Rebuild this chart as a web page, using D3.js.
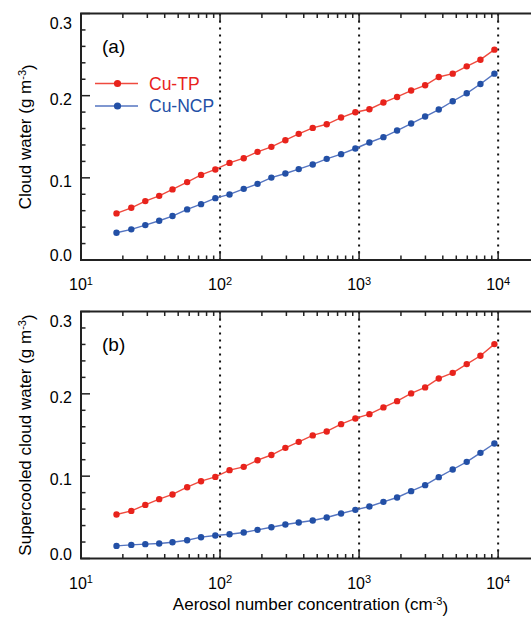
<!DOCTYPE html>
<html>
<head>
<meta charset="utf-8">
<script src="https://cdn.jsdelivr.net/npm/d3@7/dist/d3.min.js"></script>
<style>
  body { margin: 0; background: #fff; }
  text { font-family: "Liberation Sans", Arial, sans-serif; fill: #000; }
</style>
</head>
<body>
<div id="chart"></div>
<script>
// aerosol number concentration (cm-3) of every model run
var aerosol = [18, 23, 29, 36.5, 45.5, 58, 73, 92.5, 117, 148, 186, 234, 295, 368,
    464, 585, 742, 940, 1186, 1496, 1876, 2367, 2985, 3740, 4713, 5944, 7459, 9400];

// (a) cloud water (g m-3)
var cloudTP = [0.0567, 0.0635, 0.0717, 0.0781, 0.0859, 0.0948, 0.1036, 0.1102, 0.1182, 0.1239,
    0.1316, 0.1377, 0.1458, 0.1535, 0.1608, 0.1652, 0.1734, 0.1798, 0.1835, 0.1916,
    0.1984, 0.2062, 0.2126, 0.2227, 0.2268, 0.2357, 0.2438, 0.2560];
var cloudNCP = [0.0332, 0.0373, 0.0425, 0.0478, 0.0535, 0.0616, 0.0680, 0.0753, 0.0798, 0.0866,
    0.0927, 0.1003, 0.1053, 0.1106, 0.1163, 0.1231, 0.1288, 0.1357, 0.1430, 0.1495,
    0.1576, 0.1661, 0.1746, 0.1831, 0.1932, 0.2029, 0.2142, 0.2268];

// (b) supercooled cloud water (g m-3)
var superTP = [0.0535, 0.0578, 0.0651, 0.0721, 0.0778, 0.0866, 0.0939, 0.0991, 0.1073, 0.1113,
    0.1194, 0.1257, 0.1344, 0.1417, 0.1495, 0.1543, 0.1632, 0.1701, 0.1753, 0.1835,
    0.1911, 0.2005, 0.2078, 0.2187, 0.2255, 0.2361, 0.2462, 0.2604];
var superNCP = [0.0153, 0.0165, 0.0174, 0.0182, 0.0198, 0.0222, 0.0259, 0.0279, 0.0295, 0.0316,
    0.0348, 0.0379, 0.0413, 0.0437, 0.0462, 0.0498, 0.0547, 0.0591, 0.0632, 0.0688,
    0.0741, 0.0818, 0.0891, 0.0988, 0.1081, 0.1174, 0.1283, 0.1397];

var seriesNames = ["Cu-TP", "Cu-NCP"];
var xMajorTicks = [10, 100, 1000, 10000];
var xTickExponents = ["1", "2", "3", "4"];
var yMajorTicks = [0, 0.1, 0.2, 0.3];
var yTickLabels = ["0.0", "0.1", "0.2", "0.3"];
var gridValues = [100, 1000, 10000];

var colors = [{dot: "#e8231c", line: "#ef4a3e"}, {dot: "#2350a6", line: "#5474c0"}];

var width = 531, height = 618;
var left = 81, right = 540;

var svg = d3.select("#chart").append("svg")
    .attr("width", width)
    .attr("height", height);

var x = d3.scaleLog().domain([10, 20000]).range([left, right]);

// minor log ticks 2..9 of each decade that falls inside the domain
var xMinor = x.ticks().filter(function (v) { return xMajorTicks.indexOf(v) < 0; });
var yMinor = d3.range(0, 0.3001, 0.02);

function drawPanel(top, bottom, yTitle, panelLabel, seriesList, showLegend) {
    var y = d3.scaleLinear().domain([0, 0.3]).range([bottom, top]);
    var g = svg.append("g");

    // dotted verticals at the decades
    g.selectAll(".grid")
        .data(gridValues)
        .enter()
        .append("line")
        .attr("x1", function (d) { return x(d); })
        .attr("x2", function (d) { return x(d); })
        .attr("y1", top)
        .attr("y2", bottom)
        .attr("stroke", "#111")
        .attr("stroke-width", 2)
        .attr("stroke-dasharray", "2,5");

    // series lines and dots
    seriesList.forEach(function (values, i) {
        var pts = aerosol.map(function (a, k) { return [a, values[k]]; });
        g.append("path")
            .datum(pts)
            .attr("fill", "none")
            .attr("stroke", colors[i].line)
            .attr("stroke-width", 1.4)
            .attr("d", d3.line()
                .x(function (d) { return x(d[0]); })
                .y(function (d) { return y(d[1]); }));
        g.selectAll(".dot" + i)
            .data(pts)
            .enter()
            .append("circle")
            .attr("cx", function (d) { return x(d[0]); })
            .attr("cy", function (d) { return y(d[1]); })
            .attr("r", 3.2)
            .attr("fill", colors[i].dot);
    });

    // frame: ticks point inwards on all four sides
    var frame = "#222";
    g.append("rect")
        .attr("x", left).attr("y", top)
        .attr("width", right - left).attr("height", bottom - top)
        .attr("fill", "none").attr("stroke", frame).attr("stroke-width", 2);

    [[bottom, -1], [top, 1]].forEach(function (side) {
        g.selectAll(null)
            .data(xMinor)
            .enter()
            .append("line")
            .attr("x1", function (d) { return x(d); })
            .attr("x2", function (d) { return x(d); })
            .attr("y1", side[0])
            .attr("y2", side[0] + side[1] * 4.5)
            .attr("stroke", frame).attr("stroke-width", 1.5);
        g.selectAll(null)
            .data(xMajorTicks)
            .enter()
            .append("line")
            .attr("x1", function (d) { return x(d); })
            .attr("x2", function (d) { return x(d); })
            .attr("y1", side[0])
            .attr("y2", side[0] + side[1] * 9)
            .attr("stroke", frame).attr("stroke-width", 1.5);
    });

    [[left, 1], [right, -1]].forEach(function (side) {
        g.selectAll(null)
            .data(yMinor)
            .enter()
            .append("line")
            .attr("x1", side[0])
            .attr("x2", function (d) {
                var major = Math.abs(Math.round(d * 10) - d * 10) < 1e-6;
                return side[0] + side[1] * (major ? 9 : 4.5);
            })
            .attr("y1", function (d) { return y(d); })
            .attr("y2", function (d) { return y(d); })
            .attr("stroke", frame).attr("stroke-width", 1.5);
    });

    // y tick labels, end labels nudged inside like the original
    g.selectAll(".ylab")
        .data(yMajorTicks)
        .enter()
        .append("text")
        .attr("x", left - 9)
        .attr("y", function (d, i) {
            var shift = i === 0 ? 1 : (i === yMajorTicks.length - 1 ? 15 : 9);
            return y(d) + shift;
        })
        .attr("text-anchor", "end")
        .style("font-size", "16px")
        .text(function (d, i) { return yTickLabels[i]; });

    // x tick labels 10^n
    var xl = g.selectAll(".xlab")
        .data(xMajorTicks)
        .enter()
        .append("text")
        .attr("x", function (d) { return x(d); })
        .attr("y", bottom + 30)
        .attr("text-anchor", "middle")
        .style("font-size", "16px");
    xl.append("tspan").text("10");
    xl.append("tspan")
        .attr("dy", "-0.5em")
        .style("font-size", "11px")
        .text(function (d, i) { return xTickExponents[i]; });

    // y axis title
    var yt = g.append("text")
        .attr("transform", "translate(31," + ((top + bottom) / 2) + ") rotate(-90)")
        .attr("text-anchor", "middle")
        .style("font-size", "17px");
    yt.append("tspan").text(yTitle + " (g m");
    yt.append("tspan").attr("dy", "-0.45em").style("font-size", "11px").text("-3");
    yt.append("tspan").attr("dy", "0.45em").text(")");

    g.append("text")
        .attr("x", 102)
        .attr("y", top + 39)
        .style("font-size", "19px")
        .text(panelLabel);

    if (showLegend) {
        seriesNames.forEach(function (name, i) {
            var ly = 83.5 + i * 22.5;
            g.append("line")
                .attr("x1", 95).attr("x2", 138)
                .attr("y1", ly).attr("y2", ly)
                .attr("stroke", colors[i].line).attr("stroke-width", 1.4);
            g.append("circle")
                .attr("cx", 117.5).attr("cy", ly).attr("r", 3.6)
                .attr("fill", colors[i].dot);
            g.append("text")
                .attr("x", 149)
                .attr("y", ly + 6)
                .style("font-size", "17.5px")
                .style("fill", colors[i].dot)
                .text(name);
        });
    }
}

drawPanel(13.5, 260, "Cloud water", "(a)", [cloudTP, cloudNCP], true);
drawPanel(311.5, 558.5, "Supercooled cloud water", "(b)", [superTP, superNCP], false);

// shared x axis title
var xt = svg.append("text")
    .attr("x", (left + right) / 2)
    .attr("y", 610)
    .attr("text-anchor", "middle")
    .style("font-size", "17px");
xt.append("tspan").text("Aerosol number concentration (cm");
xt.append("tspan").attr("dy", "-0.45em").style("font-size", "11px").text("-3");
xt.append("tspan").attr("dy", "0.45em").text(")");
</script>
</body>
</html>
